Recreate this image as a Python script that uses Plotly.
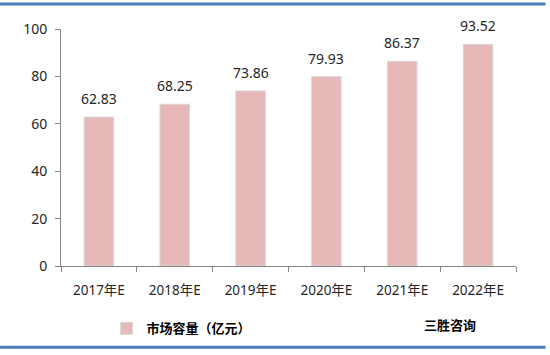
import plotly.graph_objects as go

categories = ["2017年E", "2018年E", "2019年E", "2020年E", "2021年E", "2022年E"]
values = [62.83, 68.25, 73.86, 79.93, 86.37, 93.52]
series_name = "市场容量（亿元）"
source_text = "三胜咨询"
y_ticks = [0, 20, 40, 60, 80, 100]

FONT = "Noto Sans, Noto Sans CJK SC, sans-serif"
CJK = "Noto Sans CJK SC, sans-serif"

fig = go.Figure()
fig.add_trace(go.Bar(
    x=categories, y=values, name="<b>" + series_name + "</b>",
    marker=dict(color="#E6B9B8", line=dict(color="#D9D9D9", width=1)),
))

annotations = [
    dict(x=c, y=v, xref="x", yref="y", text=f"{v:.2f}", showarrow=False,
         yanchor="bottom", yshift=7, font=dict(size=14, color="#262626", family=FONT))
    for c, v in zip(categories, values)
]
annotations.append(dict(
    text="<b>" + source_text + "</b>", xref="paper", yref="paper",
    x=0.793, y=-0.248, xanchor="left", yanchor="middle", showarrow=False,
    font=dict(size=13, color="#000000", family=CJK),
))

fig.update_layout(
    width=550, height=355,
    margin=dict(l=61, r=34, t=29, b=87),
    paper_bgcolor="white", plot_bgcolor="white",
    bargap=0.61,
    font=dict(family=FONT, size=12, color="#262626"),
    showlegend=True,
    legend=dict(orientation="h", x=0.1, y=-0.2, xanchor="left", yanchor="top",
                font=dict(size=13, color="#000000", family=CJK),
                itemwidth=30, bgcolor="rgba(0,0,0,0)"),
    xaxis=dict(
        showline=True, linecolor="#868686", linewidth=1,
        ticks="outside", ticklen=5, tickcolor="#868686", tickson="boundaries",
        tickfont=dict(size=13.5, color="#262626"), ticklabelstandoff=12,
        showgrid=False,
    ),
    yaxis=dict(
        range=[0, 100], tickvals=y_ticks,
        showline=True, linecolor="#868686", linewidth=1,
        ticks="outside", ticklen=5, tickcolor="#868686",
        tickfont=dict(size=14, color="#262626"), ticklabelstandoff=5,
        showgrid=False, zeroline=False,
    ),
    annotations=annotations,
    shapes=[
        dict(type="line", xref="paper", yref="paper", x0=-0.134, x1=1.065,
             y0=1.105, y1=1.105, line=dict(color="#4A7EBB", width=3)),
        dict(type="line", xref="paper", yref="paper", x0=-0.134, x1=1.065,
             y0=-0.343, y1=-0.343, line=dict(color="#4A7EBB", width=3)),
    ],
)

fig.write_html("out.html")
